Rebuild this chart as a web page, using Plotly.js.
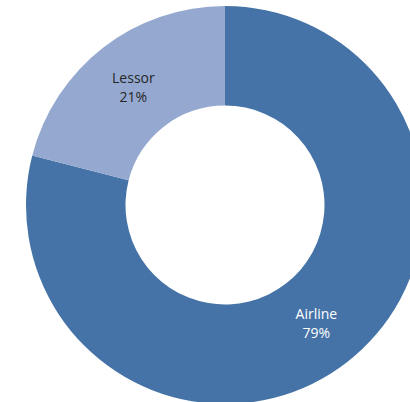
<!DOCTYPE html>
<html>
<head>
<meta charset="utf-8">
<script src="https://cdn.plot.ly/plotly-3.0.1.min.js"></script>
<style>
html, body { margin: 0; padding: 0; overflow: hidden; background: #fff; }
#chart { width: 450px; height: 420px; }
</style>
</head>
<body>
<div id="chart"></div>
<script>
const categories = ["Airline", "Lessor"];
const values = [79, 21];
const colors = ["#4573a7", "#95a9d0"];
const textColors = ["#ffffff", "#262626"];

Plotly.newPlot("chart", [{
  type: "pie",
  labels: categories,
  values: values,
  hole: 0.5,
  sort: false,
  direction: "clockwise",
  rotation: 0,
  marker: { colors: colors, line: { width: 0 } },
  texttemplate: "%{label}<br>%{percent:.0%}",
  textposition: "inside",
  insidetextorientation: "horizontal",
  insidetextfont: { family: "Open Sans, sans-serif", size: 14, color: textColors },
  hoverinfo: "none"
}], {
  width: 450,
  height: 420,
  margin: { l: 26, r: 26, t: 6, b: 16 },
  showlegend: false,
  paper_bgcolor: "#ffffff"
}, { staticPlot: true, displayModeBar: false });
</script>
</body>
</html>
